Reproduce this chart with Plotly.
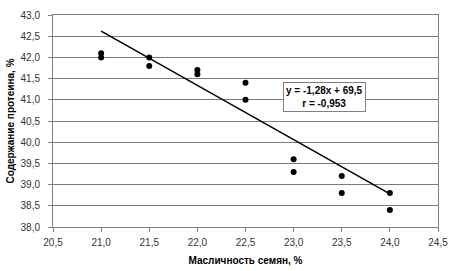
import plotly.graph_objects as go

oil_content = [21.0, 21.0, 21.5, 21.5, 22.0, 22.0, 22.5, 22.5, 23.0, 23.0, 23.5, 23.5, 24.0, 24.0]
protein = [42.1, 42.0, 42.0, 41.8, 41.7, 41.6, 41.4, 41.0, 39.6, 39.3, 39.2, 38.8, 38.8, 38.4]
slope = -1.28
intercept = 69.5
r_value = -0.953
x_ticks = [20.5, 21.0, 21.5, 22.0, 22.5, 23.0, 23.5, 24.0, 24.5]
y_ticks = [38.0, 38.5, 39.0, 39.5, 40.0, 40.5, 41.0, 41.5, 42.0, 42.5, 43.0]

trend_x = [min(oil_content), max(oil_content)]
trend_y = [slope * x + intercept for x in trend_x]

fig = go.Figure()
fig.add_trace(go.Scatter(x=trend_x, y=trend_y, mode="lines",
                         line=dict(color="black", width=1.5), hoverinfo="skip"))
fig.add_trace(go.Scatter(x=oil_content, y=protein, mode="markers",
                         marker=dict(color="black", size=6)))

font_family = "Liberation Sans, Arial, sans-serif"
fig.update_layout(
    width=458, height=271,
    margin=dict(l=53, r=20, t=15, b=44, autoexpand=False),
    paper_bgcolor="white", plot_bgcolor="white",
    showlegend=False,
    separators=", ",
    font=dict(family=font_family, size=10, color="#333333"),
    xaxis=dict(range=[20.5, 24.5], tickvals=x_ticks, tickformat=".1f",
               showgrid=False, zeroline=False, automargin=False,
               showline=True, linecolor="#808080", linewidth=1, mirror=True,
               ticks="outside", ticklen=4, tickcolor="#808080",
               ticklabelstandoff=2,
               title=dict(text="<b>Масличность семян, %</b>",
                          font=dict(size=10, color="black"), standoff=9)),
    yaxis=dict(range=[38.0, 43.0], tickvals=y_ticks, tickformat=".1f",
               showgrid=True, gridcolor="#7a7a7a", gridwidth=1, zeroline=False,
               automargin=False,
               showline=True, linecolor="#808080", linewidth=1, mirror=True,
               ticks="outside", ticklen=4, tickcolor="#808080",
               ticklabelstandoff=6,
               title=dict(text="<b>Содержание протеина, %</b>",
                          font=dict(size=10, color="black"), standoff=4)),
    annotations=[dict(
        x=23.316, y=41.07, xref="x", yref="y",
        text="<b>y = %s</b><br><b>r = %s</b>" % (
            ("%.2fx + %.1f" % (slope, intercept)).replace(".", ","),
            ("%.3f" % r_value).replace(".", ",")),
        showarrow=False, align="center",
        font=dict(size=10, color="black", family=font_family),
        bgcolor="white", bordercolor="#808080", borderwidth=1, borderpad=2,
    )],
)

fig.write_html("out.html",
               config={"displayModeBar": False, "staticPlot": True},
               post_script="document.body.style.margin='0';document.body.style.overflow='hidden';")
